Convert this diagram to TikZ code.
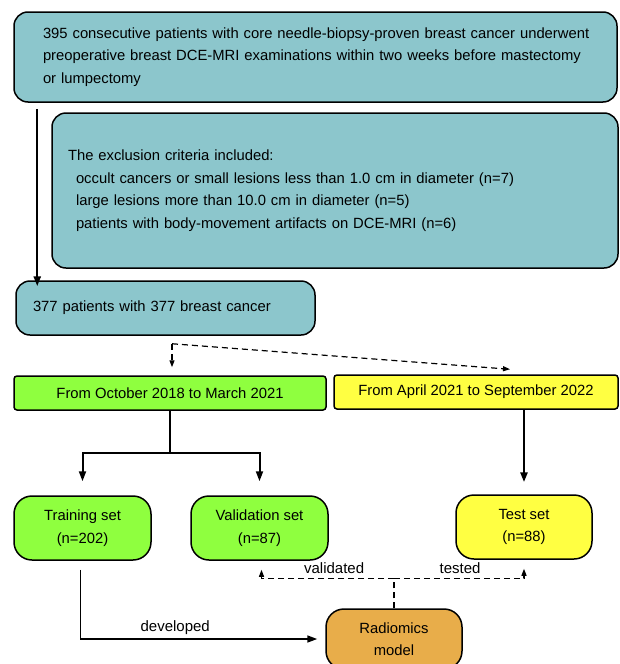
\documentclass[tikz,border=0pt]{standalone}
\usepackage{fontspec}
\setmainfont{Liberation Sans}
\usetikzlibrary{arrows.meta, positioning, calc}
\definecolor{CohortTeal}{HTML}{8CC6CC}
\definecolor{EarlyGreen}{HTML}{8FFF3F}
\definecolor{LateYellow}{HTML}{FFFF42}
\definecolor{ModelOrange}{HTML}{E8AD4A}
\tikzset{
    flowbox/.style={draw=black, line width=1.5pt, font=\fontsize{14.8}{22.5}\selectfont},
    tealbox/.style={flowbox, rounded corners=14pt, fill=CohortTeal, align=left},
    periodbox/.style={flowbox, rounded corners=3pt, minimum height=34pt},
    setbox/.style={flowbox, rounded corners=18pt, minimum width=137pt,
                   minimum height=64pt, align=center},
    solidarrow/.style={-{Triangle[length=10pt,width=7pt]}, line width=2pt},
    dashline/.style={dash pattern=on 6pt off 4pt, line width=1.2pt},
    dasharrow/.style={-{Triangle[length=7pt,width=5pt]}, dashline},
    edgetext/.style={font=\fontsize{15}{18}\selectfont, inner sep=4pt}
}

\begin{document}
\begin{tikzpicture}[x=1pt, y=-1pt]
    \useasboundingbox (0,0) rectangle (619,664);

    % Cohort and exclusion
    \node[tealbox, minimum width=603pt, minimum height=90pt, text width=545pt]
        (cohort) at (315.5,57) {\mbox{395 consecutive patients with core needle-biopsy-proven breast cancer underwent}\\preoperative breast DCE-MRI examinations within two weeks before mastectomy\\or lumpectomy};
    \node[tealbox, minimum width=566pt, minimum height=155pt, text width=534pt]
        (exclude) at (335,190.5) {The exclusion criteria included:\\
        \hspace*{8pt}occult cancers or small lesions less than 1.0 cm in diameter (n=7)\\
        \hspace*{8pt}large lesions more than 10.0 cm in diameter (n=5)\\
        \hspace*{8pt}patients with body-movement artifacts on DCE-MRI (n=6)};
    \node[tealbox, minimum width=299pt, minimum height=54pt, text width=265pt]
        (included) at (165.5,308) {377 patients with 377 breast cancer};

    % Two periods
    \node[periodbox, fill=EarlyGreen, minimum width=312pt] (early) at (170,393) {From October 2018 to March 2021};
    \node[periodbox, fill=LateYellow, minimum width=284pt] (late) at (476,392) {From April 2021 to September 2022};

    % Three sets and the model
    \node[setbox, fill=EarlyGreen] (train) at (82.5,528) {Training set\\(n=202)};
    \node[setbox, fill=EarlyGreen] (valid) at (259.5,528) {Validation set\\(n=87)};
    \node[setbox, fill=LateYellow, minimum width=136pt] (test) at (524,527) {Test set\\(n=88)};
    \node[setbox, fill=ModelOrange, minimum width=136pt, minimum height=60pt] (model) at (394,639) {Radiomics\\model};

    % Connectors
    \draw[solidarrow, line width=2.4pt] ([xshift=24pt,yshift=-6pt]cohort.south west) -- ([xshift=22pt,yshift=-6pt]included.north west);
    \coordinate (split) at ([xshift=6.5pt,yshift=-8pt]included.south);
    \draw[dasharrow] (split) -- ($(split |- early.north)+(0,-8)$);
    \draw[dasharrow] (split) -- ($(late.north)+(34,-5)$);
    \draw[line width=2pt] (early.south) -- ++(0,42) coordinate (fork);
    \draw[solidarrow] (fork) -| ($(train.north)+(0,-14)$);
    \draw[solidarrow] (fork) -| ($(valid.north)+(0,-14)$);
    \draw[solidarrow, line width=2.8pt] (test.north |- late.south) -- ($(test.north)+(0,-12)$);
    \draw[solidarrow, line width=1.6pt] ($(train.south)+(-2,9)$) |- ($(model.west)+(-8,0)$)
        node[edgetext, pos=0.7, above] {developed};
    \draw[dashline, line width=2.4pt] (model.north) -- ++(0,-30) coordinate (join);
    \draw[dasharrow] (join) -| ($(valid.south)+(2,9)$) node[edgetext, pos=0.226, above] {validated};
    \draw[dasharrow] (join) -| ($(test.south)+(0,9)$) node[edgetext, pos=0.254, above] {tested};
\end{tikzpicture}
\end{document}
